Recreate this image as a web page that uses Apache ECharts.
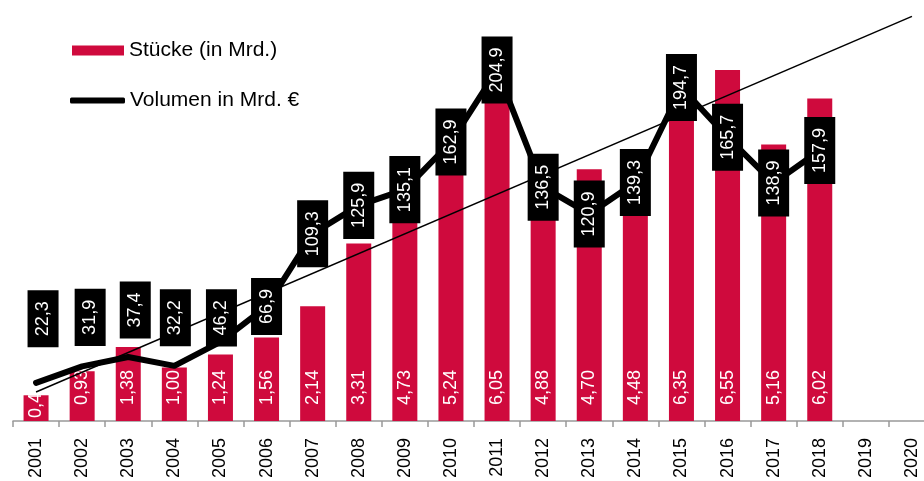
<!DOCTYPE html>
<html>
<head>
<meta charset="utf-8">
<script src="https://cdn.jsdelivr.net/npm/echarts@6/dist/echarts.min.js"></script>
<style>
  html, body { margin: 0; padding: 0; background: #fff; }
  #chart { width: 924px; height: 481px; }
</style>
</head>
<body>
<div id="chart"></div>
<script>
// Jahre (Kategorien)
const years = ["2001", "2002", "2003", "2004", "2005", "2006", "2007", "2008", "2009", "2010",
  "2011", "2012", "2013", "2014", "2015", "2016", "2017", "2018", "2019", "2020"];

// Stücke in Mrd. (Balken)
const stueck = [0.48, 0.93, 1.38, 1.00, 1.24, 1.56, 2.14, 3.31, 4.73, 5.24,
  6.05, 4.88, 4.70, 4.48, 6.35, 6.55, 5.16, 6.02];

// Volumen in Mrd. € (Linie)
const volumen = [22.3, 31.9, 37.4, 32.2, 46.2, 66.9, 109.3, 125.9, 135.1, 162.9,
  204.9, 136.5, 120.9, 139.3, 194.7, 165.7, 138.9, 157.9];

const trendEnds = [0.54, 7.55];

// Labels der ersten Jahre sind versetzt (Pixel: nach oben / nach rechts)
const labelLift = [64, 49, 47, 48, 24];
const labelShift = [7, 8, 7, 1, 1];

const fmt = (v) => v.toFixed(v < 10 ? 2 : 1).replace(".", ",");
const font = "Liberation Sans, Arial, sans-serif";
const red = "#cf0a3d";

const chart = echarts.init(document.getElementById("chart"));

const trendData = years.map((y, i) =>
  i === 0 ? trendEnds[0] : i === years.length - 1 ? trendEnds[1] : "-");

// erster Balken ist sehr kurz: Label sitzt tiefer
const barData = stueck.map((v, i) =>
  i === 0 ? { value: v, label: { distance: 3 } } : v);

// offset wird im gedrehten Koordinatensystem angewendet: x zeigt nach oben, y nach rechts
const lineData = volumen.map((v, i) => {
  const item = { value: v };
  if (i < labelLift.length) item.label = { offset: [labelLift[i], labelShift[i]] };
  return item;
});

const option = {
  animation: false,
  grid: { left: 13, right: -11, top: 0, bottom: 60, outerBoundsMode: "none" },
  legend: [
    {
      data: ["Stücke (in Mrd.)"],
      left: 72, top: 40, padding: 0,
      icon: "rect", itemWidth: 52, itemHeight: 10,
      textStyle: { fontSize: 21, fontFamily: font, color: "#000" },
      selectedMode: false
    },
    {
      data: ["Volumen in Mrd. €"],
      left: 70, top: 90, padding: 0,
      icon: "roundRect", itemWidth: 55, itemHeight: 6,
      textStyle: { fontSize: 21, fontFamily: font, color: "#000" },
      selectedMode: false
    }
  ],
  xAxis: {
    type: "category",
    data: years,
    axisLine: { lineStyle: { color: "#999", width: 1.5 } },
    axisTick: { show: true, length: 6, lineStyle: { color: "#999", width: 1.5 } },
    axisLabel: { rotate: 90, margin: 17, fontSize: 18, fontFamily: font, color: "#000" }
  },
  yAxis: [
    { type: "value", min: 0, max: 7.856, show: false, splitLine: { show: false } },
    { type: "value", min: 0, max: 245.8, show: false, splitLine: { show: false } }
  ],
  series: [
    {
      name: "Stücke (in Mrd.)",
      type: "bar",
      data: barData,
      barWidth: 25,
      itemStyle: { color: red },
      label: {
        show: true,
        position: "insideBottom",
        distance: 16,
        rotate: 90,
        align: "left",
        verticalAlign: "middle",
        color: "#fff",
        fontSize: 18,
        fontFamily: font,
        formatter: (p) => fmt(p.value)
      },
      z: 2
    },
    {
      name: "Trend",
      type: "line",
      data: trendData,
      connectNulls: true,
      symbol: "none",
      lineStyle: { color: "#000", width: 1.5 },
      z: 3
    },
    {
      name: "Volumen in Mrd. €",
      type: "line",
      yAxisIndex: 1,
      data: lineData,
      symbol: "circle",
      symbolSize: 1,
      itemStyle: { color: "#000" },
      lineStyle: { color: "#000", width: 6, cap: "round", join: "round" },
      label: {
        show: true,
        position: "inside",
        rotate: 90,
        align: "center",
        verticalAlign: "middle",
        color: "#fff",
        backgroundColor: "#000",
        padding: [5, 11],
        lineHeight: 21,
        fontSize: 18,
        fontFamily: font,
        formatter: (p) => fmt(p.value)
      },
      z: 4
    }
  ]
};

option && chart.setOption(option);
</script>
</body>
</html>
